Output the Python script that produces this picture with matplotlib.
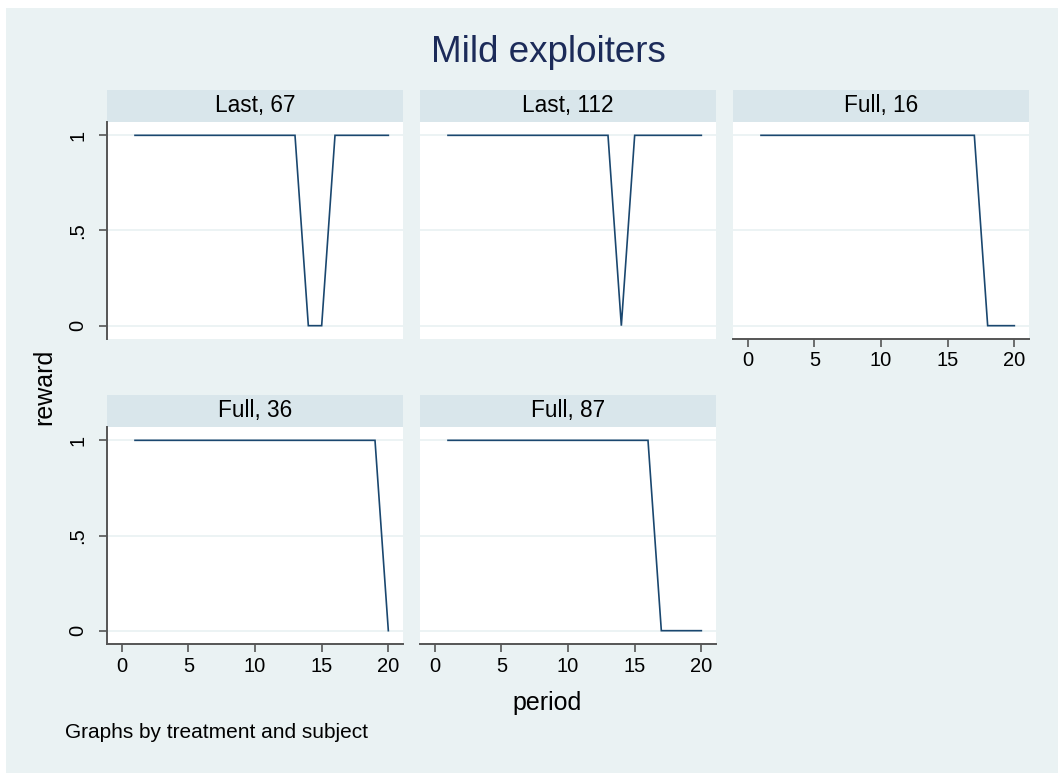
"Reward by period for the mild exploiters"

import matplotlib
matplotlib.use('Agg')
import matplotlib.pyplot as plt
from matplotlib.patches import Rectangle

plt.rcParams['font.family'] = ['Liberation Sans', 'DejaVu Sans']

period = list(range(1, 21))
panel_titles = ['Last, 67', 'Last, 112', 'Full, 16', 'Full, 36', 'Full, 87']
reward_last_67  = [1]*13 + [0, 0] + [1]*5
reward_last_112 = [1]*13 + [0] + [1]*6
reward_full_16  = [1]*17 + [0]*3
reward_full_36  = [1]*19 + [0]
reward_full_87  = [1]*16 + [0]*4
rewards = [reward_last_67, reward_last_112, reward_full_16,
           reward_full_36, reward_full_87]

x_ticks = [0, 5, 10, 15, 20]
y_ticks = [0, 0.5, 1]
y_tick_labels = ['0', '.5', '1']

BG      = '#EAF2F3'
STRIP   = '#D9E6EB'
NAVY    = '#1A476F'
AXCOL   = '#555555'
W, H    = 1058, 773

def px_box(left, top, width, height):
    """pixel box (top-left origin) -> figure fraction rect"""
    return [left / W, (H - top - height) / H, width / W, height / H]

def panel(fig, left, top, title, yvals, show_x, show_y):
    ax = fig.add_axes(px_box(left, top, 296, 217))
    ax.set_facecolor('white')
    ax.plot(period, yvals, color=NAVY, lw=1.2, solid_joinstyle='miter')
    ax.set_xlim(-1.1, 21.1)
    ax.set_ylim(-0.07, 1.07)
    for y in y_ticks:
        ax.axhline(y, color=BG, lw=1.3, zorder=0)
    for s in ax.spines.values():
        s.set_visible(False)
    ax.tick_params(colors=AXCOL, labelcolor='black', labelsize=14.5, width=1.2)
    if show_y:
        ax.spines['left'].set_visible(True)
        ax.spines['left'].set_color(AXCOL)
        ax.spines['left'].set_linewidth(1.4)
        ax.set_yticks(y_ticks)
        ax.set_yticklabels(y_tick_labels, rotation=90, va='center')
        ax.tick_params(axis='y', length=6, pad=8)
    else:
        ax.set_yticks([])
    if show_x:
        ax.spines['bottom'].set_visible(True)
        ax.spines['bottom'].set_color(AXCOL)
        ax.spines['bottom'].set_linewidth(1.4)
        ax.set_xticks(x_ticks)
        ax.tick_params(axis='x', length=6, pad=3)
    else:
        ax.set_xticks([])
    # header strip
    strip_h = 32 / 217
    ax.add_patch(Rectangle((0, 1), 1, strip_h, transform=ax.transAxes,
                           facecolor=STRIP, edgecolor='none', clip_on=False))
    ax.text(0.5, 1 + strip_h / 2, title, transform=ax.transAxes,
            ha='center', va='center', fontsize=16.3)
    return ax

def main():
    fig = plt.figure(figsize=(W / 100, H / 100), dpi=100, facecolor='white')
    fig.patches.append(Rectangle((6 / W, 0), 1, (H - 8) / H,
                                 transform=fig.transFigure, facecolor=BG,
                                 edgecolor='none', zorder=-10))

    lefts = [107, 420, 733]
    # (column, top px, x axis, y axis)
    layout = [(0, 122, False, True), (1, 122, False, False), (2, 122, True, False),
              (0, 427, True, True), (1, 427, True, False)]
    for (col, top, sx, sy), title, yvals in zip(layout, panel_titles, rewards):
        panel(fig, lefts[col], top, title, yvals, sx, sy)

    fig.text(548 / W, 1 - 53 / H, 'Mild exploiters', ha='center', va='center',
             fontsize=26.5, color='#1C2B59')
    fig.text(44 / W, 1 - 387 / H, 'reward', rotation=90, ha='center',
             va='center', fontsize=18)
    fig.text(547 / W, 1 - 703 / H, 'period', ha='center', va='center',
             fontsize=18)
    fig.text(65 / W, 1 - 733 / H, 'Graphs by treatment and subject',
             ha='left', va='center', fontsize=15)

    fig.savefig('out.png', dpi=100, facecolor='white')

if __name__ == "__main__":
    main()
